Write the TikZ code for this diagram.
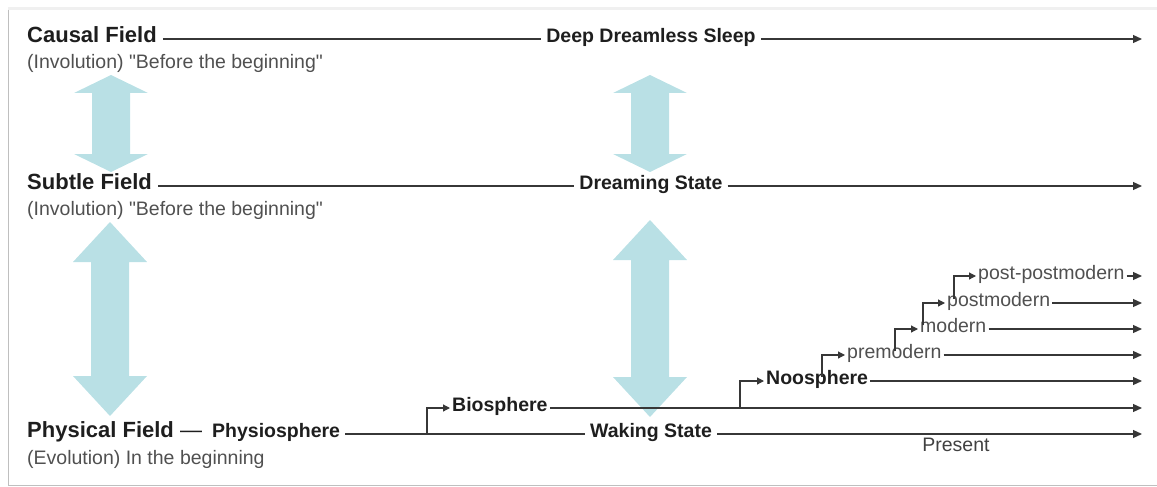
\documentclass[tikz,border=0pt]{standalone}
\usepackage{fontspec}
\setmainfont{Liberation Sans}[Ligatures=TeXOff]
\usepackage{tikz}
\usetikzlibrary{positioning, arrows.meta}
\definecolor{lightcyan}{RGB}{185,224,229}
\definecolor{inkgray}{RGB}{30,30,30}
\definecolor{subgray}{RGB}{80,80,80}
\definecolor{linegray}{RGB}{55,55,55}
\tikzstyle{field}=[%
      anchor=west, inner xsep=6pt, inner ysep=0pt, text=inkgray,
      font=\bfseries\fontsize{22}{26}\selectfont, text height=0.72em, text depth=0pt
]
\tikzstyle{note}=[%
      anchor=west, inner sep=0pt, text=subgray,
      font=\fontsize{19.5}{23}\selectfont, text height=0.72em, text depth=0pt
]
\tikzstyle{st}=[%
      inner xsep=5pt, inner ysep=0pt, text=inkgray,
      font=\bfseries\fontsize{19.5}{23}\selectfont, text height=0.72em, text depth=0pt
]
\tikzstyle{br}=[st, anchor=west, inner xsep=2pt]
\tikzstyle{era}=[br, text=subgray, font=\fontsize{19.5}{23}\selectfont]
\tikzstyle{ln}=[draw=linegray, line width=1.2pt]
\tikzstyle{tl}=[ln, -{Triangle[length=9pt,width=8pt]}]
\tikzstyle{stub}=[ln, -{Triangle[length=7pt,width=7pt]}]
\tikzstyle{glow}=[fill=lightcyan, draw=none]
% big two-headed arrow: x, top, bottom, head length
\newcommand{\updown}[4]{%
  \fill[glow] (#1-37,#2+#4) -- (#1,#2) -- (#1+37,#2+#4) -- (#1+19,#2+#4)
    -- (#1+19,#3-#4) -- (#1+37,#3-#4) -- (#1,#3) -- (#1-37,#3-#4)
    -- (#1-19,#3-#4) -- (#1-19,#2+#4) -- cycle;}
\begin{document}
\begin{tikzpicture}[x=1pt, y=-1pt]
  \useasboundingbox (0,0) rectangle (1157,487);
  % frame
  \draw[gray!12, line width=3pt] (8,9) -- (1157,9);
  \draw[gray!50, line width=1pt] (8,10) -- (8,485) -- (1157,485);

  % arrows between the fields
  \updown{111}{75}{172}{18}
  \updown{650}{75}{172}{18}
  \updown{110}{222}{416}{40}
  \updown{650}{220}{417}{40}

  % causal
  \node[field] (causal) at (21,39) {Causal Field};
  \node[note] (causalnote) at (27,65) {(Involution) "Before the beginning"};
  \node[st] (deep) at (651,39) {Deep Dreamless Sleep};
  \coordinate (causalend) at (1142,39);
  \draw[ln] (causal) -- (deep);
  \draw[tl] (deep) -- (causalend);

  % subtle
  \node[field] (subtle) at (21,186) {Subtle Field};
  \node[note] (subtlenote) at (27,211.5) {(Involution) "Before the beginning"};
  \node[st] (dream) at (651,186) {Dreaming State};
  \coordinate (subtleend) at (1142,186);
  \draw[ln] (subtle) -- (dream);
  \draw[tl] (dream) -- (subtleend);

  % physical
  \node[field] (physical) at (21,434) {Physical Field {\mdseries —}};
  \node[note] (physnote) at (27,461) {(Evolution) In the beginning};
  \node[st, anchor=west] (physio) at (207,434) {Physiosphere};
  \node[st] (waking) at (651,434) {Waking State};
  \coordinate (physend) at (1142,434);
  \draw[ln] (physio) -- (waking);
  \draw[tl] (waking) -- (physend);
  \node[note, anchor=center, text=inkgray!85] (present) at (956,448) {Present};

  % biosphere
  \coordinate (bioroot) at (427,434);
  \node[br] (bio) at (450,408) {Biosphere};
  \coordinate (bioend) at (1142,408);
  \draw[stub] (bioroot) |- (bio);
  \draw[tl] (bio) -- (bioend);

  % noosphere
  \coordinate (nooroot) at (740,408);
  \node[br] (noo) at (764,381) {Noosphere};
  \coordinate (nooend) at (1142,381);
  \draw[stub] (nooroot) |- (noo);
  \draw[tl] (noo) -- (nooend);

  % eras
  \foreach \name/\prev/\rx/\lx/\yy/\txt in {pre/noo/822/845/355/premodern,
      mod/pre/895/918/329/modern, post/mod/923/945/303/postmodern,
      pp/post/954/976/276/post-postmodern} {
    \coordinate (\name root) at (\rx,0);
    \node[era] (\name) at (\lx,\yy) {\txt};
    \coordinate (\name end) at (1142,\yy);
    \draw[stub] (\prev.north -| \name root) |- (\name);
    \draw[tl] (\name) -- (\name end);
  }
\end{tikzpicture}
\end{document}
